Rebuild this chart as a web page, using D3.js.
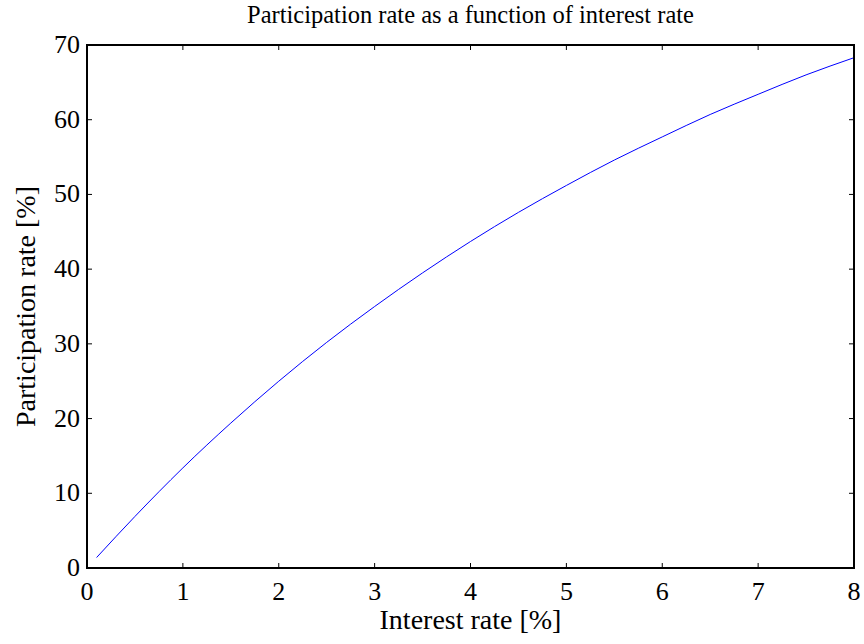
<!DOCTYPE html>
<html><head><meta charset="utf-8">
<script src="https://cdn.jsdelivr.net/npm/d3@7"></script>
<style>body{margin:0;background:#fff}svg{display:block}</style>
</head><body><svg id="c" width="864" height="644"></svg>
<script>
const interestRate = [0.1, 0.5, 1, 1.5, 2, 2.5, 3, 3.5, 4, 4.5, 5, 5.5, 6, 6.5, 7, 7.5, 8];
const participationRate = [1.4, 6.9, 13.4, 19.4, 25.0, 30.2, 35.0, 39.5, 43.7, 47.6, 51.2, 54.6, 57.7, 60.7, 63.4, 66.0, 68.3];
const xTicks = [0,1,2,3,4,5,6,7,8];
const yTicks = [0,10,20,30,40,50,60,70];
const title = "Participation rate as a function of interest rate";
const xLabel = "Interest rate [%]";
const yLabel = "Participation rate [%]";

const FONT = "Liberation Serif";
const svg = d3.select("#c");
const L=87, R=854, T=45, B=568;
const x = d3.scaleLinear().domain([0,8]).range([L,R]);
const y = d3.scaleLinear().domain([0,70]).range([B,T]);
const tl = 5;

const g = svg.append("g");
xTicks.forEach(t=>{
  g.append("line").attr("x1",x(t)).attr("x2",x(t)).attr("y1",B).attr("y2",B-tl).attr("stroke","#000").attr("stroke-width",1);
  g.append("line").attr("x1",x(t)).attr("x2",x(t)).attr("y1",T).attr("y2",T+tl).attr("stroke","#000").attr("stroke-width",1);
  g.append("text").attr("x",x(t)).attr("y",B+32).attr("text-anchor","middle").attr("font-family",FONT).attr("font-size",26).text(t);
});
yTicks.forEach(t=>{
  g.append("line").attr("x1",L).attr("x2",L+tl).attr("y1",y(t)).attr("y2",y(t)).attr("stroke","#000").attr("stroke-width",1);
  g.append("line").attr("x1",R).attr("x2",R-tl).attr("y1",y(t)).attr("y2",y(t)).attr("stroke","#000").attr("stroke-width",1);
  g.append("text").attr("x",L-7).attr("y",y(t)+8).attr("text-anchor","end").attr("font-family",FONT).attr("font-size",26).text(t);
});

const line = d3.line().x((d,i)=>x(interestRate[i])).y(d=>y(d)).curve(d3.curveMonotoneX);
svg.append("path").datum(participationRate).attr("d",line).attr("fill","none").attr("stroke","#0000ff").attr("stroke-width",1);

svg.append("rect").attr("x",L).attr("y",T).attr("width",R-L).attr("height",B-T).attr("fill","none").attr("stroke","#000").attr("stroke-width",2);

svg.append("text").attr("x",(L+R)/2).attr("y",23).attr("text-anchor","middle").attr("font-family",FONT).attr("font-size",24.5).text(title);
svg.append("text").attr("x",(L+R)/2).attr("y",629).attr("text-anchor","middle").attr("font-family",FONT).attr("font-size",28).text(xLabel);
svg.append("text").attr("transform",`translate(35,${(T+B)/2}) rotate(-90)`).attr("text-anchor","middle").attr("font-family",FONT).attr("font-size",28).text(yLabel);
</script></body></html>
